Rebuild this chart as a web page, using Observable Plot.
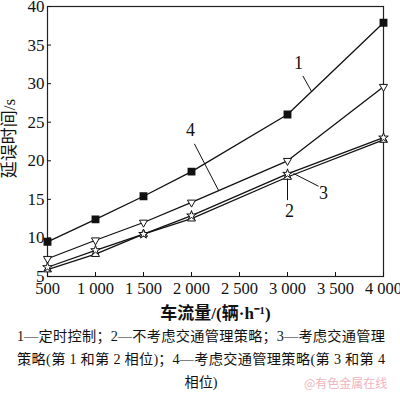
<!DOCTYPE html>
<html>
<head>
<meta charset="utf-8">
<script src="https://cdn.jsdelivr.net/npm/d3@7"></script>
<script src="https://cdn.jsdelivr.net/npm/@observablehq/plot@0.6"></script>
<style>
  html, body { margin: 0; padding: 0; background: #fff; }
  #wrap { position: relative; width: 400px; height: 397px; overflow: hidden; }
  .cap { font-family: 'Liberation Serif', 'Noto Sans CJK SC', serif; font-size: 14.2px; line-height: 23px; color: #111; width: 368px; margin-left: 17px; }
  .j { text-align: justify; text-align-last: justify; }
  .c { text-align: center; }
  #wm { position: absolute; left: 304px; top: 374px; font-family: 'Noto Sans CJK SC', sans-serif; font-size: 12px; color: #f0b4bd; }
</style>
</head>
<body>
<div id="wrap">
  <div id="chart"></div>
  <div class="cap j">1—定时控制；2—不考虑交通管理策略；3—考虑交通管理</div>
  <div class="cap j">策略(第 1 和第 2 相位)；4—考虑交通管理策略(第 3 和第 4</div>
  <div class="cap c">相位)</div>
  <div id="wm">@有色金属在线</div>
</div>
<script>
// Data
const flows = [500, 1000, 1500, 2000, 3000, 4000];
const s1 = [9.5, 12.4, 15.4, 18.6, 26.0, 37.9];   // 1 定时控制
const s2 = [5.9, 7.9, 10.5, 12.5, 17.9, 22.7];    // 2 不考虑交通管理策略
const s3 = [6.2, 8.4, 10.5, 12.9, 18.3, 23.0];    // 3 考虑策略(第1和第2相位)
const s4 = [7.3, 9.7, 12.0, 14.6, 20.0, 29.6];    // 4 考虑策略(第3和第4相位)
const seriesNames = ["1", "2", "3", "4"];
const xTicks = [500, 1000, 1500, 2000, 2500, 3000, 3500, 4000];
const xTickLabels = ["500", "1 000", "1 500", "2 000", "2 500", "3 000", "3 500", "4 000"];
const yTicks = [5, 10, 15, 20, 25, 30, 35, 40];
const xTitle = "车流量/(辆·h⁻¹)";
const yTitle = "延误时间/s";
// annotation labels (data coordinates)
const labelX = [3115, 3020, 3375, 1990];
const labelY = [32.7, 13.5, 15.8, 23.9];
const leadX1 = [3160, 3000, 3323, 2030];
const leadY1 = [31.0, 14.9, 16.7, 22.2];
const leadX2 = [3250, 3000, 3063, 2280];
const leadY2 = [29.0, 17.7, 18.35, 16.2];

const allS = [s1, s2, s3, s4];
const rows = seriesNames.flatMap((k, j) => flows.map((f, i) => ({x: f, y: allS[j][i], k})));
const labels = seriesNames.map((k, i) => ({k, x: labelX[i], y: labelY[i], x1: leadX1[i], y1: leadY1[i], x2: leadX2[i], y2: leadY2[i]}));

const font = "'Liberation Serif', 'Noto Sans CJK SC', serif";
const chart = Plot.plot({
  width: 400,
  height: 325,
  marginLeft: 47,
  marginRight: 17,
  marginTop: 6,
  marginBottom: 49,
  style: {fontFamily: font, fontSize: "17px", color: "#111", background: "#fff", overflow: "visible"},
  x: {domain: [500, 4000]},
  y: {domain: [5, 40]},
  marks: [
    Plot.frame({stroke: "#222", strokeWidth: 1.2}),
    Plot.axisX({ticks: xTicks, tickFormat: (d) => xTickLabels[xTicks.indexOf(d)], tickSize: -4, tickPadding: 10, label: null, fontSize: 16.5}),
    Plot.axisY({ticks: yTicks, tickSize: -4, tickPadding: 7, label: null, fontSize: 17}),
    Plot.text([xTitle], {frameAnchor: "bottom", dy: 37, lineAnchor: "middle", fontWeight: "bold", fontSize: 17}),
    Plot.text([yTitle], {frameAnchor: "left", textAnchor: "middle", lineAnchor: "middle", rotate: -90, dx: -38, dy: -3, fontSize: 17}),
    Plot.line(rows, {x: "x", y: "y", z: "k", stroke: "#111", strokeWidth: 1.3}),
    Plot.dot(rows.filter(d => d.k === "1"), {x: "x", y: "y", symbol: "square", r: 3.6, fill: "#111", stroke: "#111"}),
    Plot.dot(rows.filter(d => d.k === "4"), {x: "x", y: "y", symbol: "triangle", rotate: 180, r: 3, fill: "#fff", stroke: "#111", strokeWidth: 1}),
    Plot.dot(rows.filter(d => d.k === "2"), {x: "x", y: "y", symbol: "triangle", r: 3, fill: "#fff", stroke: "#111", strokeWidth: 1}),
    Plot.dot(rows.filter(d => d.k === "3"), {x: "x", y: "y", symbol: "star", r: 3, fill: "#fff", stroke: "#111", strokeWidth: 1}),
    Plot.link(labels, {x1: "x1", y1: "y1", x2: "x2", y2: "y2", stroke: "#111", strokeWidth: 1}),
    Plot.text(labels, {x: "x", y: "y", text: "k", fontSize: 18})
  ]
});
document.getElementById("chart").appendChild(chart);
</script>
</body>
</html>
